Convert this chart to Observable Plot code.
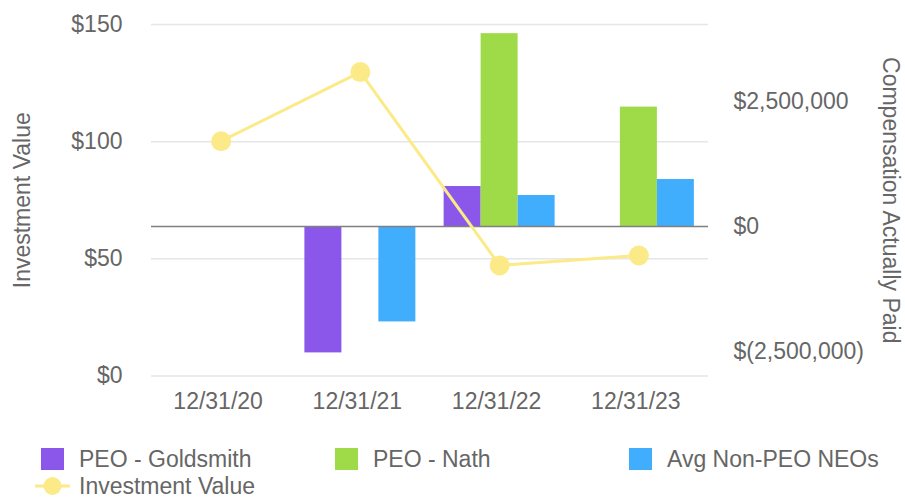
<!DOCTYPE html>
<html><head><meta charset="utf-8">
<script src="https://cdn.jsdelivr.net/npm/d3@7"></script>
<script src="https://cdn.jsdelivr.net/npm/@observablehq/plot@0.6"></script>
<style>
body{margin:0;background:#fff;font-family:"Liberation Sans",Arial,sans-serif;color:#666;}
#chart{width:905px;}
.legend{display:grid;grid-template-columns:294px 294px 294px;padding-left:41px;padding-top:20px;font-size:23px;line-height:26px;color:#666;}
.item{display:flex;align-items:center;height:27px;white-space:nowrap;}
.sw{width:23px;height:22px;margin-right:15px;flex:none;}
.item svg{margin-right:15px;overflow:visible;flex:none;}
</style></head><body><div id="chart"></div><script>
const dates = ["12/31/20", "12/31/21", "12/31/22", "12/31/23"];
const goldsmith = [null, -2530000, 800000, null];
const nath = [null, null, 3860000, 2390000];
const avgNonPeo = [null, -1910000, 620000, 940000];
const investmentValue = [100.2, 129.7, 47.2, 51.4];
const leftTicks = [0, 50, 100, 150];
const rightTicks = [-2500000, 0, 2500000];
const seriesNames = ["PEO - Goldsmith", "PEO - Nath", "Avg Non-PEO NEOs"];
const seriesColors = ["#8b57ea", "#9fda48", "#40adfd"];
const lineName = "Investment Value";
const lineColor = "#fbea87";

// Alignment of the right (compensation) axis onto the left axis units
const capToY = d3.scaleLinear().domain([0, 2500000]).range([63.8, 117.1]);
const fmtCap = v => v < 0 ? "$(" + d3.format(",")(-v) + ")" : "$" + d3.format(",")(v);

const groupW = 0.797, barW = groupW / 3;
const seriesValues = [goldsmith, nath, avgNonPeo];
const bars = [];
seriesValues.forEach((vals, k) => vals.forEach((v, i) => {
  if (v != null) bars.push({i, k, v, x1: i - groupW / 2 + k * barW, x2: i - groupW / 2 + (k + 1) * barW});
}));
const linePts = investmentValue.map((v, i) => ({i, v}));
const rightMap = new Map(rightTicks.map(v => [capToY(v), fmtCap(v)]));
const FS = 23;

const plot = Plot.plot({
  width: 905, height: 425,
  marginTop: 24, marginBottom: 49.5, marginLeft: 151, marginRight: 197,
  style: {fontFamily: '"Liberation Sans", Arial, sans-serif', color: "#666", background: "#fff"},
  x: {type: "linear", domain: [-0.5, 3.5], axis: null},
  y: {domain: [0, 150], axis: null},
  marks: [
    Plot.gridY(leftTicks, {stroke: "#e6e6e6", strokeOpacity: 1, strokeWidth: 1.5}),
    Plot.axisY(leftTicks, {anchor: "left", tickSize: 0, tickPadding: 29, fontSize: FS, tickFormat: d => "$" + d, label: null}),
    Plot.axisY(rightTicks.map(v => capToY(v)), {anchor: "right", tickSize: 0, tickPadding: 25, fontSize: FS, tickFormat: d => rightMap.get(d), label: null}),
    Plot.axisX(dates.map((d, i) => i), {anchor: "bottom", tickSize: 0, tickPadding: 17, dx: -3, fontSize: FS, tickFormat: i => dates[i], label: null}),
    Plot.rect(bars, {x1: "x1", x2: "x2", y1: () => capToY(0), y2: d => capToY(d.v), fill: d => seriesColors[d.k]}),
    Plot.ruleY([0], {y: d => capToY(d), stroke: "#808080", strokeWidth: 1.5}),
    Plot.line(linePts, {x: "i", y: "v", stroke: lineColor, strokeWidth: 3}),
    Plot.dot(linePts, {x: "i", y: "v", r: 10, fill: lineColor, stroke: "none"}),
    Plot.text([lineName], {frameAnchor: "left", textAnchor: "middle", rotate: -90, dx: -129, fontSize: FS, fill: "#666"}),
    Plot.text(["Compensation Actually Paid"], {frameAnchor: "right", textAnchor: "middle", rotate: 90, dx: 182, fontSize: FS, fill: "#666"})
  ]
});
document.getElementById("chart").appendChild(plot);

const legend = document.createElement("div");
legend.className = "legend";
seriesNames.forEach((n, k) => {
  const it = document.createElement("div");
  it.className = "item";
  it.innerHTML = `<span class="sw" style="background:${seriesColors[k]}"></span><span>${n}</span>`;
  legend.appendChild(it);
});
const li = document.createElement("div");
li.className = "item";
li.innerHTML = `<svg width="23" height="22"><line x1="-6" x2="29" y1="11" y2="11" stroke="${lineColor}" stroke-width="3"/><circle cx="11.5" cy="11" r="9" fill="${lineColor}"/></svg><span>${lineName}</span>`;
legend.appendChild(li);
document.getElementById("chart").appendChild(legend);
</script></body></html>
